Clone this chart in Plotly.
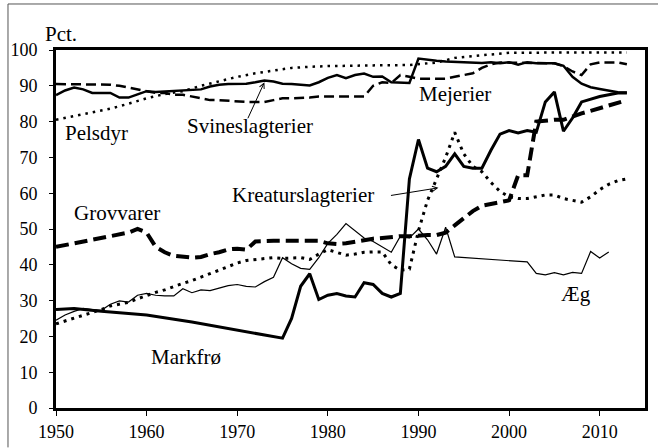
import plotly.graph_objects as go

# ---------------- data ----------------
years_svin = list(range(1950, 2014))
svineslagterier = [87.4, 88.7, 89.5, 89.0, 88.0, 88.0, 88.0, 86.7, 86.7, 87.6,
                   88.5, 88.3, 88.4, 88.6, 88.7, 88.7, 89.0, 89.8, 90.3, 90.5,
                   90.5, 90.6, 91.0, 91.5, 91.2, 90.6, 90.5, 90.3, 90.1, 91.0,
                   92.2, 93.0, 92.1, 93.0, 93.4, 92.5, 92.6, 91.0, 90.9, 90.8,
                   97.6, 97.2, 97.0, 96.8, 96.7, 96.5, 96.5, 96.4, 96.6, 96.3,
                   96.6, 95.9, 96.6, 96.3, 96.3, 96.3, 95.6, 92.5, 90.6, 89.6,
                   89.1, 88.6, 88.2, 88.1]

years_mej = list(range(1950, 2014))
mejerier = [90.5, 90.5, 90.5, 90.5, 90.5, 90.5, 90.3, 90.0, 89.5, 89.0,
            88.5, 88.0, 88.0, 87.5, 87.5, 87.0, 86.5, 86.0, 86.0, 85.8,
            85.5, 85.5, 85.5, 85.5, 86.0, 86.5, 86.5, 86.5, 86.7, 87.0,
            87.0, 87.0, 86.8, 87.0, 87.0, 90.0, 91.0, 90.8, 93.0, 92.5,
            92.0, 92.0, 92.0, 92.0, 92.5, 93.0, 93.5, 95.0, 96.0, 96.5,
            96.5, 96.5, 96.5, 96.4, 96.3, 96.3, 95.5, 94.0, 93.0, 96.0,
            96.5, 96.5, 96.5, 96.0]

years_pels = [1950, 1952, 1954, 1956, 1958, 1960, 1962, 1964, 1966, 1968,
              1970, 1972, 1974, 1976, 1978, 1980, 1985, 1989, 1992, 1994,
              1996, 1998, 2000, 2005, 2013]
pelsdyr = [80.5, 81.5, 82.5, 83.6, 85.0, 86.5, 87.7, 88.5, 90.0, 91.3,
           92.5, 93.5, 94.2, 95.0, 95.3, 95.5, 95.7, 95.8, 96.5, 97.8,
           98.3, 98.8, 99.2, 99.3, 99.3]

years_grov = list(range(1950, 2014))
grovvarer = [45.0, 45.5, 46.0, 46.5, 47.0, 47.5, 48.0, 48.5, 49.0, 50.0,
             49.0, 45.0, 43.5, 42.5, 42.2, 42.0, 42.2, 43.0, 43.5, 44.3,
             44.5, 44.2, 46.5, 46.7, 46.7, 46.7, 46.7, 46.7, 46.7, 46.7,
             46.0, 45.8, 46.0, 46.5, 47.0, 47.3, 47.5, 47.8, 48.0, 48.0,
             48.2, 48.3, 48.3, 49.0, 51.0, 53.0, 55.0, 56.5, 57.0, 57.5,
             58.0, 65.0, 65.0, 80.0, 80.3, 80.5, 80.5, 81.5, 82.3, 83.0,
             83.8, 84.5, 85.2, 86.0]

years_krea = list(range(1950, 2014))
kreaturslagterier = [23.5, 24.3, 25.0, 25.8, 26.5, 27.5, 28.5, 29.0, 29.5, 30.5,
                     31.5, 32.3, 33.0, 34.0, 34.8, 35.6, 36.5, 37.5, 38.5, 39.5,
                     40.5, 41.2, 41.5, 41.8, 42.0, 41.8, 41.8, 42.0, 41.5, 43.0,
                     44.2, 43.5, 42.7, 43.0, 43.5, 43.6, 43.6, 40.0, 38.5, 38.8,
                     49.5, 58.0, 64.0, 70.0, 77.0, 71.0, 67.5, 66.0, 63.0, 60.5,
                     59.0, 58.5, 58.5, 59.0, 59.5, 59.5, 58.5, 58.0, 57.5, 59.0,
                     61.0, 62.5, 63.5, 64.0]

years_mark = [1950, 1952, 1955, 1960, 1965, 1970, 1975, 1976, 1977, 1978,
              1979, 1980, 1981, 1982, 1983, 1984, 1985, 1986, 1987, 1988,
              1989, 1990, 1991, 1992, 1993, 1994, 1995, 1996, 1997, 1998,
              1999, 2000, 2001, 2002, 2003, 2004, 2005, 2006, 2007, 2008,
              2009, 2010, 2011, 2012, 2013]
markfro = [27.5, 27.8, 27.0, 26.0, 24.0, 21.7, 19.5, 25.0, 34.0, 37.5,
           30.3, 31.5, 32.0, 31.3, 31.0, 35.0, 34.5, 32.0, 31.0, 32.0,
           64.0, 75.0, 67.0, 66.0, 67.5, 71.0, 67.5, 67.0, 67.0, 72.0,
           76.5, 77.5, 76.8, 77.5, 77.0, 85.5, 88.3, 77.3, 81.0, 85.5,
           86.3, 87.0, 87.5, 88.0, 88.0]

years_aeg = list(range(1950, 1996)) + [2002, 2003, 2004, 2005, 2006, 2007, 2008, 2009, 2010, 2011]
aeg = [24.5, 26.0, 27.0, 27.8, 27.5, 27.3, 29.0, 29.9, 29.6, 31.5,
       32.0, 31.5, 31.3, 31.3, 33.3, 32.2, 33.0, 32.8, 33.5, 34.2,
       34.5, 34.0, 33.8, 35.3, 36.5, 42.0, 40.3, 39.0, 38.7, 42.0,
       46.0, 48.5, 51.5, 49.5, 47.5, 46.5, 45.0, 43.5, 48.0, 47.5,
       50.0, 47.0, 43.0, 50.5, 42.2, 42.0,
       40.8, 37.6, 37.2, 37.8, 37.2, 37.9, 37.6, 43.7, 41.9, 43.6]

x_ticks = [1950, 1960, 1970, 1980, 1990, 2000, 2010]
y_ticks = [0, 10, 20, 30, 40, 50, 60, 70, 80, 90, 100]

FONT = "Liberation Serif"
LABEL_SIZE = 21
TICK_SIZE = 18

fig = go.Figure()

def add(xs, ys, name, width, dash):
    fig.add_trace(go.Scatter(x=xs, y=ys, name=name, mode="lines",
                             line=dict(color="black", width=width, dash=dash)))

add(years_aeg, aeg, "Æg", 1.2, "solid")
add(years_krea, kreaturslagterier, "Kreaturslagterier", 3, "3px,5px")
add(years_grov, grovvarer, "Grovvarer", 4, "13px,6px")
add(years_mark, markfro, "Markfrø", 3, "solid")
add(years_pels, pelsdyr, "Pelsdyr", 2.5, "2.5px,5px")
add(years_mej, mejerier, "Mejerier", 2.5, "10px,5px")
add(years_svin, svineslagterier, "Svineslagterier", 2.5, "solid")

labels = [
    ("Pelsdyr", 1954.5, 76.8),
    ("Svineslagterier", 1971.4, 78.8),
    ("Mejerier", 1994.0, 87.7),
    ("Kreaturslagterier", 1977.3, 59.5),
    ("Grovvarer", 1956.7, 54.5),
    ("Markfrø", 1964.3, 14.2),
    ("Æg", 2007.4, 31.8),
]
for t, x, y in labels:
    fig.add_annotation(x=x, y=y, text=t, showarrow=False,
                       xanchor="center", yanchor="middle",
                       font=dict(family=FONT, size=LABEL_SIZE, color="black"))

# arrows
fig.add_annotation(x=1973.0, y=91.0, ax=1971.1, ay=80.5, axref="x", ayref="y",
                   text="", showarrow=True, arrowhead=5, arrowsize=1,
                   arrowwidth=1, arrowcolor="black")
fig.add_annotation(x=1992.2, y=61.5, ax=1986.8, ay=59.3, axref="x", ayref="y",
                   text="", showarrow=True, arrowhead=5, arrowsize=1,
                   arrowwidth=1, arrowcolor="black")

fig.add_annotation(x=-0.022, y=1.045, xref="paper", yref="paper",
                   text="Pct.", showarrow=False, xanchor="left", yanchor="middle",
                   font=dict(family=FONT, size=LABEL_SIZE, color="black"))

# outer frame (left and top edges)
fig.add_shape(type="line", xref="paper", yref="paper",
              x0=-0.0815, x1=-0.0815, y0=-0.11, y1=1.1285,
              line=dict(color="#555555", width=1))
fig.add_shape(type="line", xref="paper", yref="paper",
              x0=-0.0815, x1=1.03, y0=1.1285, y1=1.1285,
              line=dict(color="#555555", width=1))

fig.update_layout(
    width=658, height=448, autosize=False,
    margin=dict(l=56, r=13, t=50, b=40, pad=0, autoexpand=False),
    paper_bgcolor="white", plot_bgcolor="white",
    showlegend=False,
    font=dict(family=FONT, size=TICK_SIZE, color="black"),
)
fig.update_xaxes(range=[1950, 2015], tickvals=x_ticks, showgrid=False,
                 zeroline=False, showline=True, mirror=True, linewidth=3,
                 linecolor="black", ticks="outside", ticklen=5, tickwidth=1,
                 tickcolor="black", automargin=False,
                 tickfont=dict(family=FONT, size=TICK_SIZE))
fig.update_yaxes(range=[0, 100], tickvals=y_ticks, showgrid=False,
                 zeroline=False, showline=True, mirror=True, linewidth=3,
                 linecolor="black", ticks="outside", ticklen=4, tickwidth=1,
                 tickcolor="black", ticklabelstandoff=8, automargin=False,
                 tickfont=dict(family=FONT, size=TICK_SIZE))

fig.write_html("out.html", config={"displayModeBar": False},
               post_script="document.body.style.margin='0';")
